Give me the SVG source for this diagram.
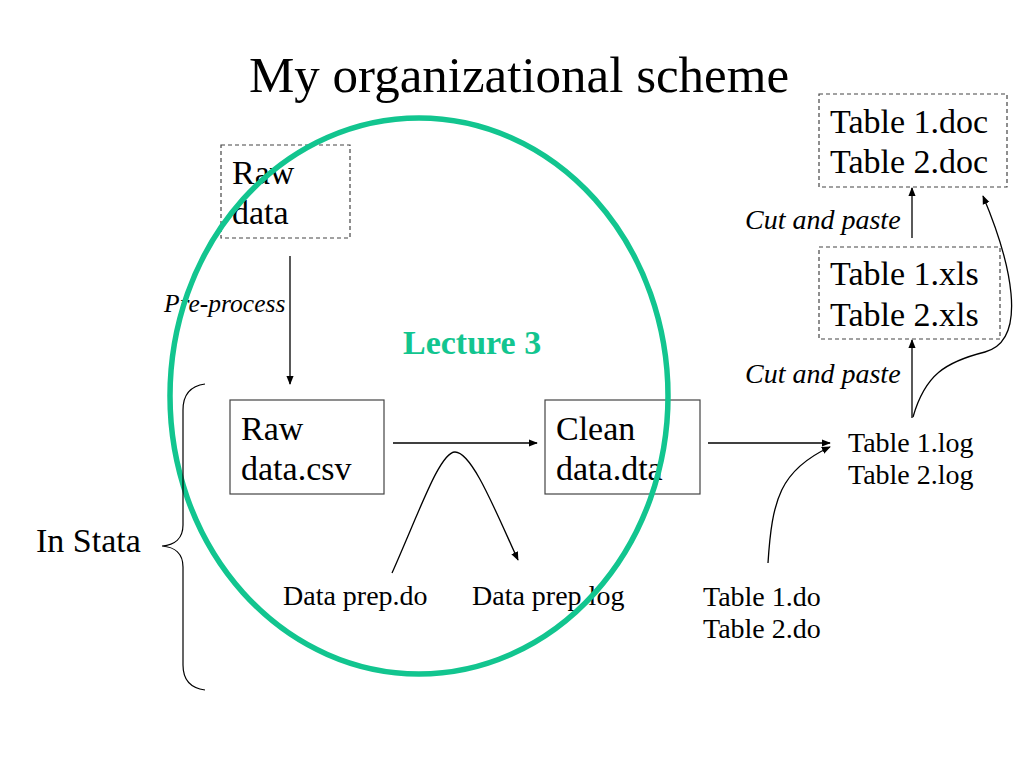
<svg xmlns="http://www.w3.org/2000/svg" width="1024" height="768" viewBox="0 0 1024 768">
<style>
text{font-family:"Liberation Serif","Times New Roman",serif;fill:#000}
.big{font-size:34px}
.mid{font-size:28px}
.it{font-style:italic}
.dash{fill:none;stroke:#444;stroke-width:1.2;stroke-dasharray:4 3}
.box{fill:none;stroke:#444;stroke-width:1.2}
.con{fill:none;stroke:#000;stroke-width:1.3;marker-end:url(#ah)}
</style>
<defs>
<marker id="ah" viewBox="0 0 10 10" refX="9" refY="5" markerWidth="9" markerHeight="9" markerUnits="userSpaceOnUse" orient="auto">
<path d="M0,1 L10,5 L0,9 z" fill="#000"/>
</marker>
</defs>
<rect width="1024" height="768" fill="#fff"/>
<text x="249" y="92" style="font-size:51px">My organizational scheme</text>

<g id="raw-data">
<rect class="dash" x="221" y="145" width="129" height="93"/>
<text class="big" x="232" y="184">Raw</text>
<text class="big" x="232" y="224">data</text>
</g>
<g id="raw-csv">
<rect class="box" x="230" y="400" width="154" height="94"/>
<text class="big" x="241" y="440">Raw</text>
<text class="big" x="241" y="480">data.csv</text>
</g>
<g id="clean-dta">
<rect class="box" x="545" y="400" width="155" height="94"/>
<text class="big" x="556" y="440">Clean</text>
<text class="big" x="556" y="480">data.dta</text>
</g>
<g id="dataprep-do"><text class="mid" x="283" y="605">Data prep.do</text></g>
<g id="dataprep-log"><text class="mid" x="472" y="605">Data prep.log</text></g>
<g id="table-log">
<text class="mid" x="848" y="452">Table 1.log</text>
<text class="mid" x="848" y="484">Table 2.log</text>
</g>
<g id="table-do">
<text class="mid" x="703" y="606">Table 1.do</text>
<text class="mid" x="703" y="638">Table 2.do</text>
</g>
<g id="table-xls">
<rect class="dash" x="819" y="247" width="181" height="92"/>
<text class="big" x="830" y="285">Table 1.xls</text>
<text class="big" x="830" y="326">Table 2.xls</text>
</g>
<g id="table-doc">
<rect class="dash" x="819" y="94" width="188" height="93"/>
<text class="big" x="830" y="133">Table 1.doc</text>
<text class="big" x="830" y="173">Table 2.doc</text>
</g>

<g id="connectors">
<path class="con" d="M290,256 L290,384"/>
<path class="con" d="M393,443 L537,443"/>
<path class="con" d="M392,573 C420,510 440,452 455,452 C472,452 495,510 518,560"/>
<path class="con" d="M708,443 L830,443"/>
<path class="con" d="M768,563 C772,500 780,470 830,447"/>
<path class="con" d="M912,418 L912,340"/>
<path class="con" d="M912,238 L912,188"/>
<path class="con" d="M913,417 C925,375 945,362 985,352 C1030,340 1010,260 983,196"/>
</g>

<text class="it" x="164" y="312" style="font-size:25.5px">Pre-process</text>
<text class="it mid" x="745" y="229">Cut and paste</text>
<text class="it mid" x="745" y="383">Cut and paste</text>

<g id="lecture3">
<ellipse cx="419" cy="396" rx="249" ry="278" fill="none" stroke="#12c58f" stroke-width="5.5"/>
<text x="403" y="354" font-weight="bold" style="font-size:34px;fill:#12c58f">Lecture 3</text>
</g>

<g id="in-stata">
<path d="M205,384 C190,386 183,395 183,410 L183,525 C183,538 175,545 162,546 C175,547 183,554 183,567 L183,665 C183,680 190,688 205,690" fill="none" stroke="#000" stroke-width="1.2"/>
<text x="36" y="552" style="font-size:34px">In Stata</text>
</g>
</svg>
